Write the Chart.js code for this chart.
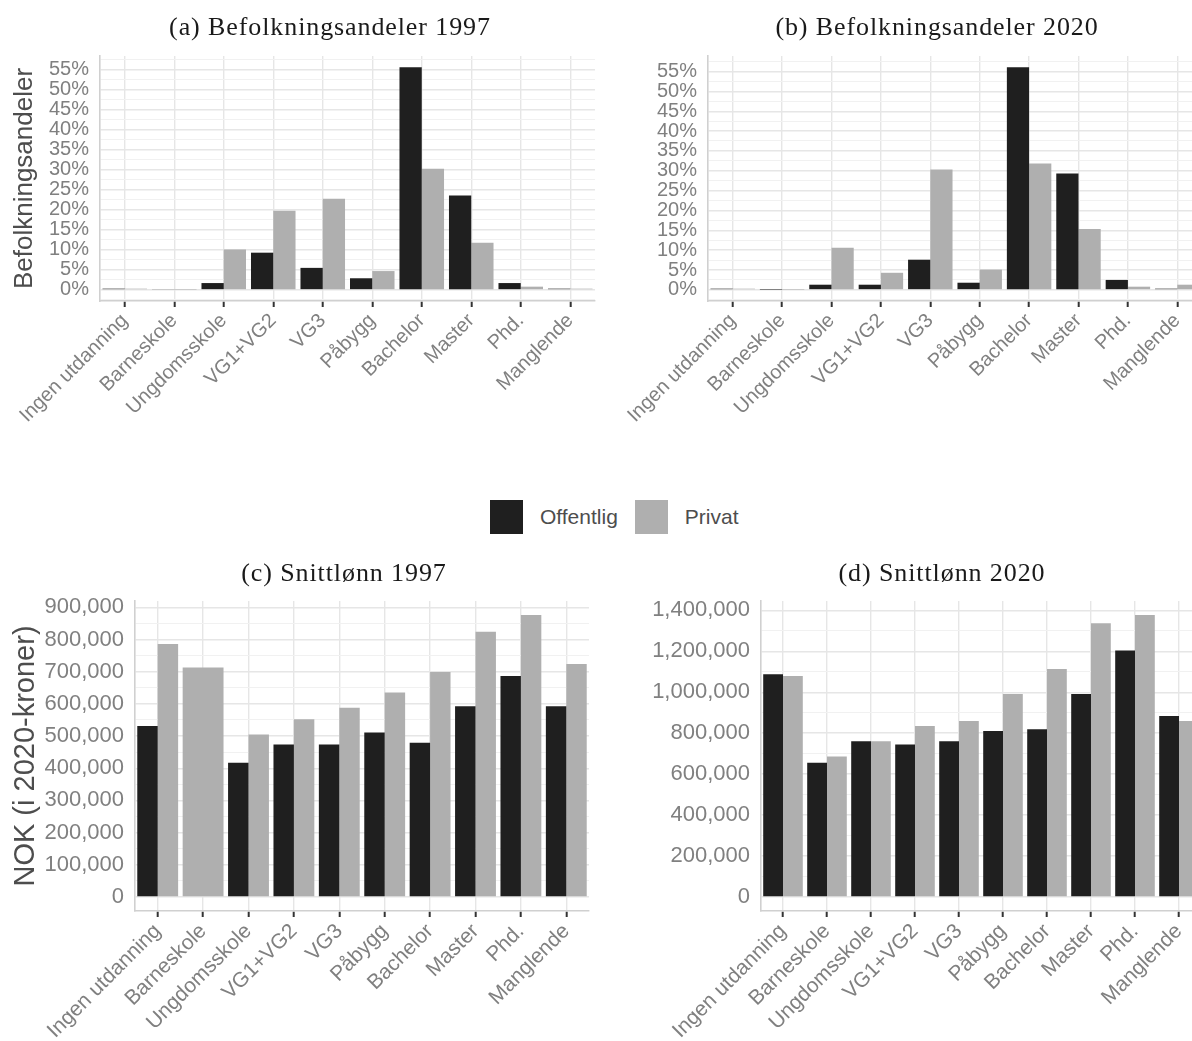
<!DOCTYPE html>
<html lang="no">
<head>
<meta charset="utf-8">
<title>Befolkningsandeler og snittlønn etter utdanning</title>
<script src="https://cdn.jsdelivr.net/npm/chart.js@4.4.1/dist/chart.umd.min.js"></script>
<style>
  html, body { margin: 0; padding: 0; background: #ffffff; width: 1192px; height: 1041px; overflow: hidden; }
  canvas { position: absolute; }
  .ptitle { position: absolute; width: 600px; height: 30px; line-height: 30px; text-align: center;
            font-family: 'Liberation Serif', 'DejaVu Serif', serif; font-size: 26px; letter-spacing: 0.9px;
            color: #1a1a1a; white-space: nowrap; }
  #legend { position: absolute; top: 500px; left: 490px; height: 34px; display: flex; align-items: center;
            font-family: 'Liberation Sans', Arial, sans-serif; font-size: 21px; color: #4d4d4d; }
  #legend .key { width: 33px; height: 34px; display: inline-block; }
  #legend .lbl { margin: 0 17px 0 17px; }
</style>
</head>
<body>
<canvas id="panelA" width="600" height="470" style="left:0px;top:0px"></canvas>
<canvas id="panelB" width="610" height="470" style="left:600px;top:0px"></canvas>
<canvas id="panelC" width="600" height="501" style="left:0px;top:540px"></canvas>
<canvas id="panelD" width="610" height="501" style="left:600px;top:540px"></canvas>
<div class="ptitle" style="left:30px;top:12px">(a) Befolkningsandeler 1997</div>
<div class="ptitle" style="left:637px;top:12px">(b) Befolkningsandeler 2020</div>
<div class="ptitle" style="left:44px;top:558px">(c) Snittlønn 1997</div>
<div class="ptitle" style="left:642px;top:558px">(d) Snittlønn 2020</div>
<div id="legend"></div>

<script>
// Education levels on the x axis
const categories = ['Ingen utdanning', 'Barneskole', 'Ungdomsskole', 'VG1+VG2', 'VG3',
                    'Påbygg', 'Bachelor', 'Master', 'Phd.', 'Manglende'];
const seriesNames = ['Offentlig', 'Privat'];

// Population shares by education, percent
const share1997Offentlig = [0.3, null, 1.7, 9.3, 5.5, 2.9, 55.7, 23.6, 1.7, 0.3];
const share1997Privat    = [0.3, 0.05, 10.1, 19.8, 22.8, 4.7, 30.3, 11.8, 0.8, 0.3];
const share2020Offentlig = [0.3, 0.05, 1.3, 1.3, 7.6, 1.8, 56.1, 29.3, 2.5, 0.3];
const share2020Privat    = [0.3, 0.05, 10.6, 4.3, 30.3, 5.1, 31.8, 15.3, 0.8, 1.3];

// Average wage by education, NOK in 2020 kroner
const wage1997Offentlig = [531000, null, 417000, 474000, 474000, 511000, 479000, 593000, 687000, 593000];
const wage1997Privat    = [786000, 713000, 505000, 552000, 588000, 635000, 699000, 824000, 876000, 724000];
const wage2020Offentlig = [1088000, 655000, 761000, 745000, 761000, 811000, 819000, 991000, 1204000, 884000];
const wage2020Privat    = [1080000, 686000, 761000, 835000, 860000, 991000, 1114000, 1337000, 1377000, 860000];

// Labelled y-axis breaks
const shareTicks    = [0, 5, 10, 15, 20, 25, 30, 35, 40, 45, 50, 55];
const wage1997Ticks = [0, 100000, 200000, 300000, 400000, 500000, 600000, 700000, 800000, 900000];
const wage2020Ticks = [0, 200000, 400000, 600000, 800000, 1000000, 1200000, 1400000];

const COLOR_OFF = '#1f1f1f';
const COLOR_PRIV = '#afafaf';
const SANS = "'Liberation Sans', Arial, sans-serif";
const TICK_COLOR = '#808080';

const fmtPct = v => v + '%';
const fmtNok = v => String(Math.round(v)).replace(/\B(?=(\d{3})+(?!\d))/g, ',');

function makePanel(id, cfg) {
  const values = cfg.off.concat(cfg.priv).filter(v => v != null);
  const top = Math.max(...values);
  const pad = top * 0.05;
  const yMin = -pad, yMax = top + pad;
  const step = cfg.ticks[1] - cfg.ticks[0];
  const isMajor = v => Math.abs(v / step - Math.round(v / step)) < 1e-6;

  // major breaks plus minor lines halfway between them, kept inside the limits
  const lines = [];
  for (let k = -1; ; k++) {
    const v = cfg.ticks[0] + k * step / 2;
    if (v > yMax) break;
    if (v >= yMin) lines.push(v);
  }

  return new Chart(document.getElementById(id), {
    type: 'bar',
    data: {
      labels: categories,
      datasets: [
        { label: seriesNames[0], data: cfg.off, backgroundColor: COLOR_OFF },
        { label: seriesNames[1], data: cfg.priv, backgroundColor: COLOR_PRIV }
      ]
    },
    options: {
      responsive: false,
      animation: false,
      layout: { padding: { left: 0, right: cfg.padRight, top: cfg.padTop, bottom: 0 } },
      datasets: { bar: { categoryPercentage: 0.9, barPercentage: 1.0, skipNull: true, borderWidth: 0 } },
      plugins: {
        legend: { display: false },
        tooltip: { enabled: false },
        title: { display: false }
      },
      scales: {
        x: {
          grid: { offset: false, color: '#e6e6e6', lineWidth: 1.4,
                  tickColor: '#333333', tickLength: 6, tickWidth: 2 },
          border: { color: '#d0d0d0', width: 1.6 },
          ticks: { autoSkip: false, minRotation: 45, maxRotation: 45, padding: 2,
                   color: TICK_COLOR, font: { family: SANS, size: cfg.xFont } },
          afterFit: s => { s.height = cfg.xHeight; }
        },
        y: {
          min: yMin, max: yMax,
          afterBuildTicks: s => { s.ticks = lines.map(v => ({ value: v })); },
          ticks: { autoSkip: false, padding: 11, color: TICK_COLOR,
                   font: { family: SANS, size: cfg.yFont },
                   callback: v => isMajor(v) ? cfg.fmt(v) : '' },
          grid: { drawTicks: false,
                  color: c => isMajor(c.tick.value) ? '#e6e6e6' : '#f1f1f1',
                  lineWidth: c => isMajor(c.tick.value) ? 1.4 : 1.0 },
          border: { color: '#d0d0d0', width: 1.6 },
          title: { display: !!cfg.yTitle, text: cfg.yTitle || '', color: '#4d4d4d',
                   font: { family: SANS, size: cfg.titleFont, lineHeight: 1.2 },
                   padding: { top: cfg.titlePad, bottom: 0 } },
          afterFit: s => { s.width = cfg.yWidth; }
        }
      }
    }
  });
}

makePanel('panelA', {
  yTitle: 'Befolkningsandeler',
  off: share1997Offentlig, priv: share1997Privat, ticks: shareTicks, fmt: fmtPct,
  yWidth: 100, padRight: 5, padTop: 56, xHeight: 169,
  xFont: 20, yFont: 20, titleFont: 26, titlePad: 9
});
makePanel('panelB', {
  yTitle: '',
  off: share2020Offentlig, priv: share2020Privat, ticks: shareTicks, fmt: fmtPct,
  yWidth: 108, padRight: 8, padTop: 56, xHeight: 169,
  xFont: 20, yFont: 20, titleFont: 26, titlePad: 9
});
makePanel('panelC', {
  yTitle: 'NOK (i 2020-kroner)',
  off: wage1997Offentlig, priv: wage1997Privat, ticks: wage1997Ticks, fmt: fmtNok,
  yWidth: 135, padRight: 11, padTop: 61, xHeight: 130,
  xFont: 21, yFont: 22, titleFont: 29, titlePad: 9
});
makePanel('panelD', {
  yTitle: '',
  off: wage2020Offentlig, priv: wage2020Privat, ticks: wage2020Ticks, fmt: fmtNok,
  yWidth: 161, padRight: 9, padTop: 61, xHeight: 130,
  xFont: 21, yFont: 22, titleFont: 29, titlePad: 9
});

// Shared legend for all four panels
const legend = document.getElementById('legend');
[COLOR_OFF, COLOR_PRIV].forEach((col, i) => {
  const key = document.createElement('span');
  key.className = 'key';
  key.style.background = col;
  const lbl = document.createElement('span');
  lbl.className = 'lbl';
  lbl.textContent = seriesNames[i];
  legend.appendChild(key);
  legend.appendChild(lbl);
});
</script>
</body>
</html>
